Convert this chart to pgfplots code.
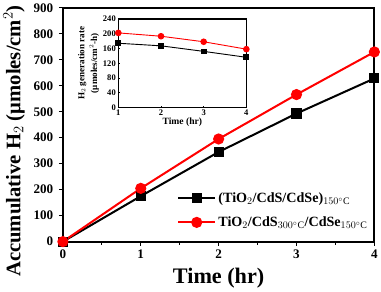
\documentclass[border=0pt]{standalone}
\usepackage{fontspec}
\setmainfont{Liberation Serif}
\usepackage{pgfplots}
\pgfplotsset{compat=1.18}
\begin{document}
\begin{tikzpicture}[font=\bfseries]
\begin{axis}[
  name=main,
  at={(0,0)}, anchor=south west,
  scale only axis, width=309pt, height=232pt,
  xmin=0, xmax=4, ymin=0, ymax=900,
  xtick={0,1,2,3,4}, minor xtick={0.5,1.5,2.5,3.5},
  ytick={0,100,...,900},
  tick align=outside, major tick length=4pt, minor tick length=3pt,
  xtick pos=left, ytick pos=left,
  axis line style={line width=2pt},
  every tick/.style={line width=1.2pt, black},
  /pgf/number format/assume math mode=true,
  ticklabel style={font=\fontsize{13}{15}\selectfont\bfseries},
  xticklabel style={yshift=-1pt},
  yticklabel style={xshift=-2pt},
  xlabel={Time (hr)}, ylabel={Accumulative H$_2$ (μmoles/cm$^2$)},
  xlabel style={font=\fontsize{22}{25}\selectfont\bfseries, yshift=-2pt},
  ylabel style={font=\fontsize{20.5}{24}\selectfont\bfseries, at={(ticklabel cs:0.43)}, yshift=2pt},
  legend style={draw=none, fill=none, at={(0.995,0.04)}, anchor=south east,
    font=\fontsize{14}{16}\selectfont\bfseries, row sep=9pt},
  legend cell align=left,
  legend image code/.code={\draw[mark repeat=2,mark phase=2,#1] plot coordinates {(0cm,0cm) (0.65cm,0cm) (1.3cm,0cm)};},
]
\addplot[black, line width=2pt, mark=square*, mark size=4pt] coordinates {(0,0) (1,175) (2,345) (3,493) (4,628)};
\addlegendentry{(TiO$_2$/CdS/CdSe)$_{150^\circ\mathrm{C}}$}
\addplot[red, line width=2pt, mark=*, mark size=4.5pt] coordinates {(0,0) (1,205) (2,395) (3,566) (4,730)};
\addlegendentry{TiO$_2$/CdS$_{300^\circ\mathrm{C}}$/CdSe$_{150^\circ\mathrm{C}}$}
\end{axis}
\begin{axis}[
  at={(55pt,133pt)}, anchor=south west,
  scale only axis, width=127pt, height=88pt,
  xmin=1, xmax=4, ymin=0, ymax=240,
  xtick={1,2,3,4}, ytick={0,40,...,240},
  tick align=inside, major tick length=2pt,
  xtick pos=left, ytick pos=left,
  axis line style={line width=1.4pt},
  every tick/.style={line width=0.8pt, black},
  /pgf/number format/assume math mode=true,
  ticklabel style={font=\fontsize{8.5}{9}\selectfont\bfseries},
  xticklabel style={yshift=1pt},
  yticklabel style={xshift=1pt},
  xlabel={Time (hr)},
  ylabel={\shortstack{H$_2$ generation rate\\(μmoles/cm$^2$-h)}},
  xlabel style={font=\fontsize{9.5}{10}\selectfont\bfseries, yshift=5pt},
  ylabel style={font=\fontsize{9}{9}\selectfont\bfseries, yshift=-3pt},
]
\addplot[black, line width=0.9pt, mark=square*, mark size=2.4pt] coordinates {(1,174) (2,167) (3,152) (4,136)};
\addplot[red, line width=0.9pt, mark=*, mark size=2.8pt] coordinates {(1,202) (2,193) (3,178) (4,158)};
\end{axis}
\end{tikzpicture}
\end{document}
